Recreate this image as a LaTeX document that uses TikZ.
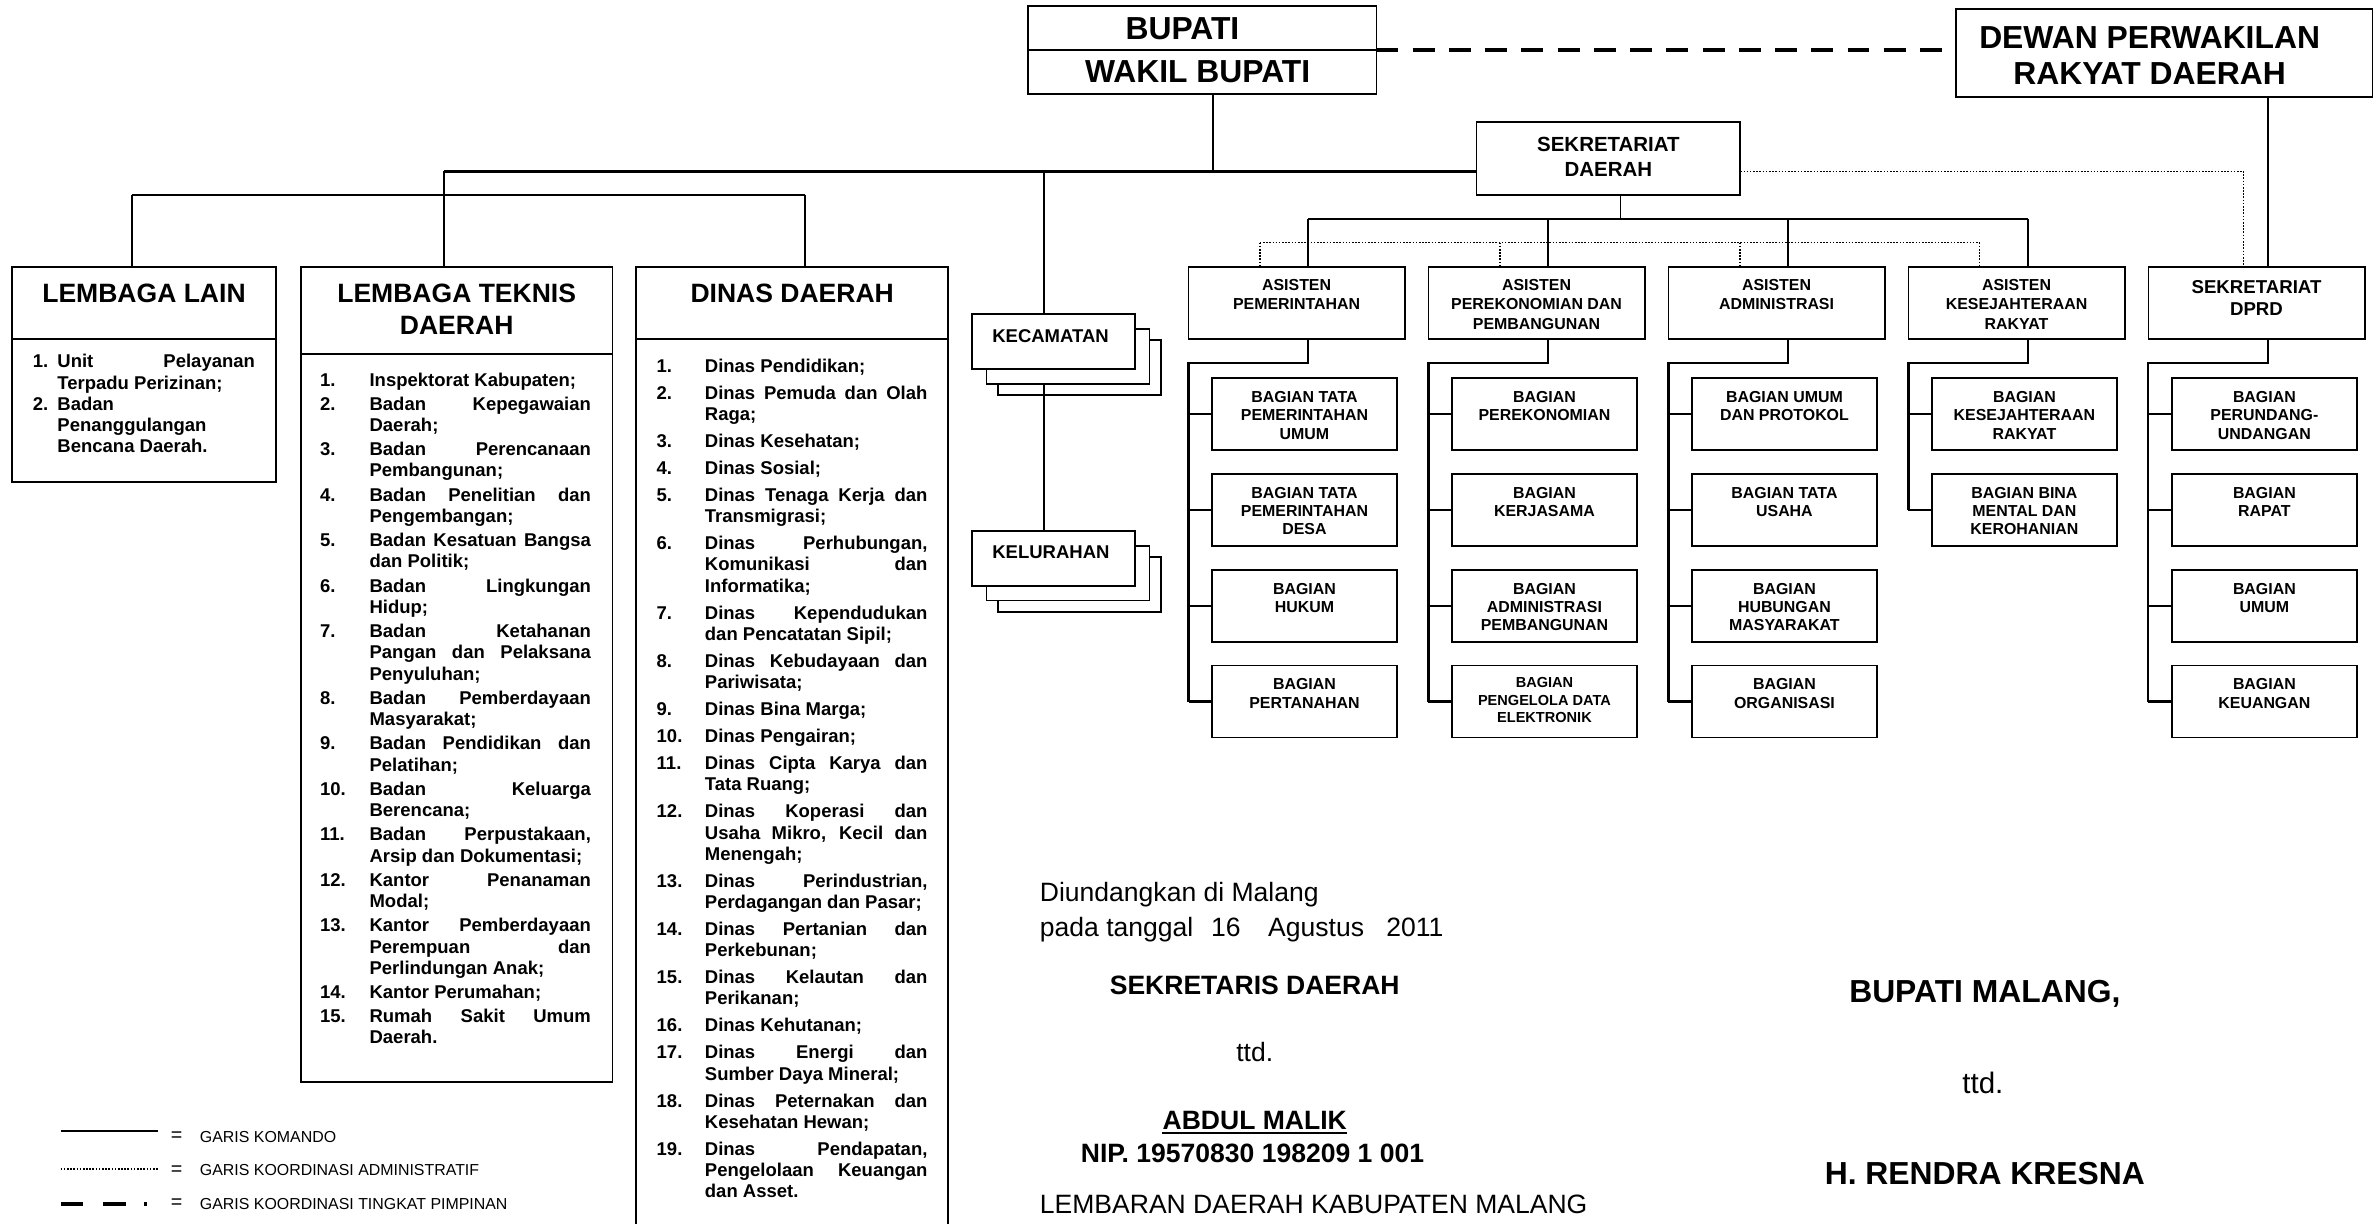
\documentclass[tikz,border=0pt]{standalone}
\usepackage{fontspec}
\setmainfont{Liberation Sans}
\newlength\numw \newlength\listw
\newcommand\inum[1]{\makebox[\numw][l]{#1}}
\newcommand\jline[1]{\makebox[\listw][s]{#1}}
\newcommand\indt{\hspace*{\numw}}
\newcommand\mkbox[6][]{\pgfmathsetmacro\bw{#5-#3}\pgfmathsetmacro\bh{#6-#4}%
  \node[bx,#1,minimum width=\bw pt,minimum height=\bh pt] (#2) at (#3,#4) {};}
\newcommand\bagbox[4]{\pgfmathsetmacro\xa{#2+15.5}\pgfmathsetmacro\xb{#2+137.5}\pgfmathsetmacro\yb{#3+47.5}%
  \mkbox[sbx]{#1}{\xa}{#3}{\xb}{\yb}%
  \pgfmathsetmacro\xc{#2+76.5}\pgfmathsetmacro\yc{#3+8.5}%
  \node[bag] (#1t) at (\xc,\yc) {#4};}
\begin{document}
\begin{tikzpicture}[x=1pt, y=-1pt,
  bx/.style={draw, line width=1.2pt, fill=white, inner sep=0pt, outer sep=0pt, anchor=north west},
  sbx/.style={line width=1.1pt},
  hline/.style={line width=1.7pt},
  vline/.style={line width=1.1pt},
  brk/.style={line width=1.4pt},
  dotl/.style={line width=1.05pt, dash pattern=on 1.05pt off 1.05pt},
  pimp/.style={line width=2.8pt, dash pattern=on 14.5pt off 9.4pt},
  t21/.style={font=\fontsize{21}{23.5}\selectfont\bfseries, inner sep=0pt},
  ttl/.style={font=\fontsize{17.5}{21}\selectfont\bfseries, align=center, inner sep=0pt},
  lst/.style={font=\fontsize{12.2}{14}\selectfont\bfseries, align=left, anchor=north west, inner sep=0pt},
  asi/.style={font=\fontsize{10.5}{12.7}\selectfont\bfseries, align=center, anchor=north, inner sep=0pt},
  bag/.style={font=\fontsize{10.5}{12.1}\selectfont\bfseries, align=center, anchor=north, inner sep=0pt},
  kc/.style={font=\fontsize{12.2}{14}\selectfont\bfseries, anchor=west, inner sep=0pt},
  sg/.style={font=\fontsize{17.5}{21}\selectfont, inner sep=0pt},
  sgb/.style={font=\fontsize{17.5}{21}\selectfont\bfseries, inner sep=0pt},
  sgc/.style={font=\fontsize{21}{24}\selectfont\bfseries, inner sep=0pt},
  lg/.style={font=\fontsize{10.5}{12}\selectfont, inner sep=0pt},
  eqs/.style={font=\fontsize{13}{14}\selectfont, inner sep=0pt}]
\useasboundingbox (0,0) rectangle (1568,807);
\fill[white] (0,0) rectangle (1568,807);

% ---------- top boxes
\mkbox{bupati}{678}{4}{908}{62}
\mkbox{dprd}{1290}{6}{1565}{64}
\mkbox{sekda}{974}{80.5}{1148}{128.6}

% ---------- left boxes
\mkbox{lain}{8}{176}{182}{318}
\mkbox{teknis}{198.5}{176}{404}{714}
\mkbox{dinas}{419.7}{176}{625.6}{840}

% ---------- kecamatan / kelurahan stacks
\mkbox{kec3}{658.2}{224.5}{765.7}{260.7}
\mkbox{kec2}{650.8}{217.1}{758.3}{253.3}
\mkbox{kec1}{641}{207.3}{748.5}{243.5}
\mkbox{kel3}{658.2}{367.5}{765.7}{403.5}
\mkbox{kel2}{650.8}{360.1}{758.3}{396.1}
\mkbox{kel1}{641}{350.3}{748.5}{386.3}

% ---------- asisten boxes
\mkbox{as1}{784}{176}{926.6}{223.6}
\mkbox{as2}{942.3}{176}{1084.9}{223.6}
\mkbox{as3}{1100.6}{176}{1243.2}{223.6}
\mkbox{as4}{1258.9}{176}{1401.5}{223.6}
\mkbox{sdprd}{1417.2}{176}{1559.8}{223.6}

% ---------- bagian boxes
\bagbox{b11}{784}{249.4}{BAGIAN TATA\\PEMERINTAHAN\\UMUM}
\bagbox{b12}{784}{312.6}{BAGIAN TATA\\PEMERINTAHAN\\DESA}
\bagbox{b13}{784}{375.8}{BAGIAN\\HUKUM}
\bagbox{b14}{784}{439}{BAGIAN\\PERTANAHAN}
\bagbox{b21}{942.3}{249.4}{BAGIAN\\PEREKONOMIAN}
\bagbox{b22}{942.3}{312.6}{BAGIAN\\KERJASAMA}
\bagbox{b23}{942.3}{375.8}{BAGIAN\\ADMINISTRASI\\PEMBANGUNAN}
\mkbox[sbx]{b24}{957.8}{439}{1079.8}{486.5}
\node[bag, font=\fontsize{9.6}{11.7}\selectfont\bfseries] (b24t) at (1018.8,446.6) {BAGIAN\\PENGELOLA DATA\\ELEKTRONIK};
\bagbox{b31}{1100.6}{249.4}{BAGIAN UMUM\\DAN PROTOKOL}
\bagbox{b32}{1100.6}{312.6}{BAGIAN TATA\\USAHA}
\bagbox{b33}{1100.6}{375.8}{BAGIAN\\HUBUNGAN\\MASYARAKAT}
\bagbox{b34}{1100.6}{439}{BAGIAN\\ORGANISASI}
\bagbox{b41}{1258.9}{249.4}{BAGIAN\\KESEJAHTERAAN\\RAKYAT}
\bagbox{b42}{1258.9}{312.6}{BAGIAN BINA\\MENTAL DAN\\KEROHANIAN}
\bagbox{b51}{1417.2}{249.4}{BAGIAN\\PERUNDANG-\\UNDANGAN}
\bagbox{b52}{1417.2}{312.6}{BAGIAN\\RAPAT}
\bagbox{b53}{1417.2}{375.8}{BAGIAN\\UMUM}
\bagbox{b54}{1417.2}{439}{BAGIAN\\KEUANGAN}

% ---------- helper coordinates
\coordinate (my) at (0,113);
\coordinate (ly) at (0,128.6);
\coordinate (vx1) at (87,0);
\coordinate (vx2) at (293,0);
\coordinate (vx3) at (531,0);
\coordinate (kx) at (688.7,0);
\coordinate (bx) at (800,0);
\coordinate (sx) at (1069,0);
\coordinate (dpv) at (1496,0);
\coordinate (dpd) at (1480,0);
\coordinate (by) at (0,144.5);
\coordinate (dy) at (0,160);
\coordinate (cy) at (0,239.6);
\coordinate (d1) at (863,0);
\coordinate (d2) at (1021.3,0);
\coordinate (d3) at (1179.6,0);
\coordinate (d4) at (1337.9,0);
\coordinate (d5) at (1496.2,0);
\coordinate (e1) at (831,0);
\coordinate (e2) at (989.3,0);
\coordinate (e3) at (1147.6,0);
\coordinate (e4) at (1305.9,0);
\coordinate (L1) at (784,0);
\coordinate (L2) at (942.3,0);
\coordinate (L3) at (1100.6,0);
\coordinate (L4) at (1258.9,0);
\coordinate (L5) at (1417.2,0);

% ---------- dividers
\draw[line width=1.2pt] (bupati.west) -- (bupati.east);
\draw[line width=1.2pt] (lain.west |- 0,223.6) -- (lain.east |- 0,223.6);
\draw[line width=1.2pt] (teknis.west |- 0,233.6) -- (teknis.east |- 0,233.6);
\draw[line width=1.2pt] (dinas.west |- 0,223.6) -- (dinas.east |- 0,223.6);

% ---------- command lines (top)
\draw[pimp] (bupati.east) -- (bupati.east -| dprd.west);
\draw[vline] (bupati.south -| bx) -- (bx |- my);
\draw[hline] (vx2 |- my) -- (sekda.west |- my);
\draw[hline] (vx1 |- ly) -- (vx3 |- ly);
\draw[vline] (vx1 |- ly) -- (lain.north -| vx1);
\draw[vline] (vx2 |- my) -- (teknis.north -| vx2);
\draw[vline] (vx3 |- ly) -- (dinas.north -| vx3);
\draw[vline] (kx |- my) -- (kec1.north -| kx);
\draw[vline] (kec2.south -| kx) -- (kel1.north -| kx);
\draw[vline] (dprd.south -| dpv) -- (sdprd.north -| dpv);

% ---------- sekda branches
\draw[vline] (sekda.south -| sx) -- (sx |- by);
\draw[hline] (d1 |- by) -- (d4 |- by);
\draw[vline] (d1 |- by) -- (as1.north -| d1);
\draw[vline] (d2 |- by) -- (as2.north -| d2);
\draw[vline] (d3 |- by) -- (as3.north -| d3);
\draw[vline] (d4 |- by) -- (as4.north -| d4);
\draw[dotl] (e1 |- dy) -- (e4 |- dy);
\draw[dotl] (e1 |- dy) -- (as1.north -| e1);
\draw[dotl] (e2 |- dy) -- (as2.north -| e2);
\draw[dotl] (e3 |- dy) -- (as3.north -| e3);
\draw[dotl] (e4 |- dy) -- (as4.north -| e4);
\draw[dotl] (sekda.east |- my) -| (sdprd.north -| dpd);

% ---------- brackets to bagian
\draw[brk] (as1.south -| d1) |- (L1 |- cy) -- (b14.west -| L1);
\draw[brk] (b11.west -| L1) -- (b11.west);
\draw[brk] (b12.west -| L1) -- (b12.west);
\draw[brk] (b13.west -| L1) -- (b13.west);
\draw[brk] (b14.west -| L1) -- (b14.west);
\draw[brk] (as2.south -| d2) |- (L2 |- cy) -- (b24.west -| L2);
\draw[brk] (b21.west -| L2) -- (b21.west);
\draw[brk] (b22.west -| L2) -- (b22.west);
\draw[brk] (b23.west -| L2) -- (b23.west);
\draw[brk] (b24.west -| L2) -- (b24.west);
\draw[brk] (as3.south -| d3) |- (L3 |- cy) -- (b34.west -| L3);
\draw[brk] (b31.west -| L3) -- (b31.west);
\draw[brk] (b32.west -| L3) -- (b32.west);
\draw[brk] (b33.west -| L3) -- (b33.west);
\draw[brk] (b34.west -| L3) -- (b34.west);
\draw[brk] (as4.south -| d4) |- (L4 |- cy) -- (b42.west -| L4);
\draw[brk] (b41.west -| L4) -- (b41.west);
\draw[brk] (b42.west -| L4) -- (b42.west);
\draw[brk] (sdprd.south -| d5) |- (L5 |- cy) -- (b54.west -| L5);
\draw[brk] (b51.west -| L5) -- (b51.west);
\draw[brk] (b52.west -| L5) -- (b52.west);
\draw[brk] (b53.west -| L5) -- (b53.west);
\draw[brk] (b54.west -| L5) -- (b54.west);

% ---------- texts top
\node[t21] (tbup) at (780,19) {BUPATI};
\node[t21] (twak) at (790,47.5) {WAKIL BUPATI};
\node[t21] (tdw1) at (1418,25) {DEWAN PERWAKILAN};
\node[t21] (tdw2) at (1418,48.5) {RAKYAT DAERAH};
\node[font=\fontsize{13.5}{16.5}\selectfont\bfseries, align=center, anchor=north, inner sep=0pt] (tsekda) at (1061,90.2) {SEKRETARIAT\\DAERAH};

% ---------- asisten texts
\node[asi] (tas1) at (855.3,184.2) {ASISTEN\\PEMERINTAHAN};
\node[asi] (tas2) at (1013.6,184.2) {ASISTEN\\PEREKONOMIAN DAN\\PEMBANGUNAN};
\node[asi] (tas3) at (1171.9,184.2) {ASISTEN\\ADMINISTRASI};
\node[asi] (tas4) at (1330.2,184.2) {ASISTEN\\KESEJAHTERAAN\\RAKYAT};
\node[asi, font=\fontsize{12.3}{14.5}\selectfont\bfseries] (tsdprd) at (1488.5,184.9) {SEKRETARIAT\\DPRD};

% ---------- kecamatan / kelurahan texts
\node[kc] (tkec) at (654.4,221.7) {KECAMATAN};
\node[kc] (tkel) at (654.4,364) {KELURAHAN};

% ---------- left titles
\node[ttl] (tlain) at (95,193.5) {LEMBAGA LAIN};
\node[ttl, anchor=north] (tteknis) at (301.25,187.2) {LEMBAGA TEKNIS\\DAERAH};
\node[ttl] (tdinas) at (522.6,193.5) {DINAS DAERAH};

% ---------- lists
\setlength\numw{16.2pt}\setlength\listw{130.3pt}
\node[lst] (llain) at (21.5,233.6) {%
\inum{1.}\jline{Unit Pelayanan}\\
\indt Terpadu Perizinan;\\
\inum{2.}Badan\\
\indt Penanggulangan\\
\indt Bencana Daerah.};

\setlength\numw{32.6pt}\setlength\listw{146pt}
\node[lst] (lteknis) at (211,245.6) {%
\inum{1.}Inspektorat Kabupaten;\\[2pt]
\inum{2.}\jline{Badan Kepegawaian}\\
\indt Daerah;\\[2pt]
\inum{3.}\jline{Badan Perencanaan}\\
\indt Pembangunan;\\[2pt]
\inum{4.}\jline{Badan Penelitian dan}\\
\indt Pengembangan;\\[2pt]
\inum{5.}\jline{Badan Kesatuan Bangsa}\\
\indt dan Politik;\\[2pt]
\inum{6.}\jline{Badan Lingkungan}\\
\indt Hidup;\\[2pt]
\inum{7.}\jline{Badan Ketahanan}\\
\indt\jline{Pangan dan Pelaksana}\\
\indt Penyuluhan;\\[2pt]
\inum{8.}\jline{Badan Pemberdayaan}\\
\indt Masyarakat;\\[2pt]
\inum{9.}\jline{Badan Pendidikan dan}\\
\indt Pelatihan;\\[2pt]
\inum{10.}\jline{Badan Keluarga}\\
\indt Berencana;\\[2pt]
\inum{11.}\jline{Badan Perpustakaan,}\\
\indt Arsip dan Dokumentasi;\\[2pt]
\inum{12.}\jline{Kantor Penanaman}\\
\indt Modal;\\[2pt]
\inum{13.}\jline{Kantor Pemberdayaan}\\
\indt\jline{Perempuan dan}\\
\indt Perlindungan Anak;\\[2pt]
\inum{14.}Kantor Perumahan;\\[2pt]
\inum{15.}\jline{Rumah Sakit Umum}\\
\indt Daerah.};

\setlength\numw{31.8pt}\setlength\listw{146.8pt}
\node[lst] (ldinas) at (433,236.6) {%
\inum{1.}Dinas Pendidikan;\\[3.8pt]
\inum{2.}\jline{Dinas Pemuda dan Olah}\\
\indt Raga;\\[3.8pt]
\inum{3.}Dinas Kesehatan;\\[3.8pt]
\inum{4.}Dinas Sosial;\\[3.8pt]
\inum{5.}\jline{Dinas Tenaga Kerja dan}\\
\indt Transmigrasi;\\[3.8pt]
\inum{6.}\jline{Dinas Perhubungan,}\\
\indt\jline{Komunikasi dan}\\
\indt Informatika;\\[3.8pt]
\inum{7.}\jline{Dinas Kependudukan}\\
\indt dan Pencatatan Sipil;\\[3.8pt]
\inum{8.}\jline{Dinas Kebudayaan dan}\\
\indt Pariwisata;\\[3.8pt]
\inum{9.}Dinas Bina Marga;\\[3.8pt]
\inum{10.}Dinas Pengairan;\\[3.8pt]
\inum{11.}\jline{Dinas Cipta Karya dan}\\
\indt Tata Ruang;\\[3.8pt]
\inum{12.}\jline{Dinas Koperasi dan}\\
\indt\jline{Usaha Mikro, Kecil dan}\\
\indt Menengah;\\[3.8pt]
\inum{13.}\jline{Dinas Perindustrian,}\\
\indt Perdagangan dan Pasar;\\[3.8pt]
\inum{14.}\jline{Dinas Pertanian dan}\\
\indt Perkebunan;\\[3.8pt]
\inum{15.}\jline{Dinas Kelautan dan}\\
\indt Perikanan;\\[3.8pt]
\inum{16.}Dinas Kehutanan;\\[3.8pt]
\inum{17.}\jline{Dinas Energi dan}\\
\indt Sumber Daya Mineral;\\[3.8pt]
\inum{18.}\jline{Dinas Peternakan dan}\\
\indt Kesehatan Hewan;\\[3.8pt]
\inum{19.}\jline{Dinas Pendapatan,}\\
\indt\jline{Pengelolaan Keuangan}\\
\indt dan Asset.};

% ---------- legend
\coordinate (lg1a) at (40,746);
\coordinate (lg1b) at (104,746);
\coordinate (lg2a) at (40,771);
\coordinate (lg2b) at (104,771);
\coordinate (lg3a) at (40,794);
\coordinate (lg3b) at (97.2,794);
\draw[line width=1.3pt] (lg1a) -- (lg1b);
\draw[dotl] (lg2a) -- (lg2b);
\draw[line width=2.6pt, dash pattern=on 14.6pt off 13.3pt on 15.2pt off 11.8pt on 2.4pt off 50pt] (lg3a) -- (lg3b);
\node[eqs] (eq1) at (116.5,750) {=};
\node[eqs] (eq2) at (116.5,772) {=};
\node[eqs] (eq3) at (116.5,794) {=};
\node[lg, anchor=west] (lgt1) at (131.7,750) {GARIS KOMANDO};
\node[lg, anchor=west] (lgt2) at (131.7,772) {GARIS KOORDINASI ADMINISTRATIF};
\node[lg, anchor=west] (lgt3) at (131.7,794) {GARIS KOORDINASI TINGKAT PIMPINAN};

% ---------- signatures
\node[sg, anchor=base west] (diund) at (685.8,594.5) {Diundangkan di Malang};
\node[sg, anchor=base west] (tgl) at (685.8,618) {\makebox[112.9pt][l]{pada tanggal}\makebox[37.7pt][l]{16}\makebox[78pt][l]{Agustus}2011};
\node[sgb] (sekr) at (827.7,650) {SEKRETARIS DAERAH};
\node[sg, anchor=base] (ttd1) at (827.7,700.4) {ttd.};
\node[sgb, anchor=base] (abdul) at (827.7,745) {ABDUL MALIK};
\draw[line width=1.6pt] ([yshift=-2.4pt]abdul.base west) -- ([yshift=-2.4pt]abdul.base east);
\node[sgb] (nip) at (826.2,761) {NIP. 19570830 198209 1 001};
\node[sg, anchor=base west] (lemb) at (685.8,800.5) {LEMBARAN DAERAH KABUPATEN MALANG};
\node[sgc, anchor=base] (bupmal) at (1309.3,661.5) {BUPATI MALANG,};
\node[sg, font=\fontsize{19.5}{22}\selectfont, anchor=base] (ttd2) at (1308,721) {ttd.};
\node[sgc] (rendra) at (1309.3,774) {H. RENDRA KRESNA};
\end{tikzpicture}
\end{document}
